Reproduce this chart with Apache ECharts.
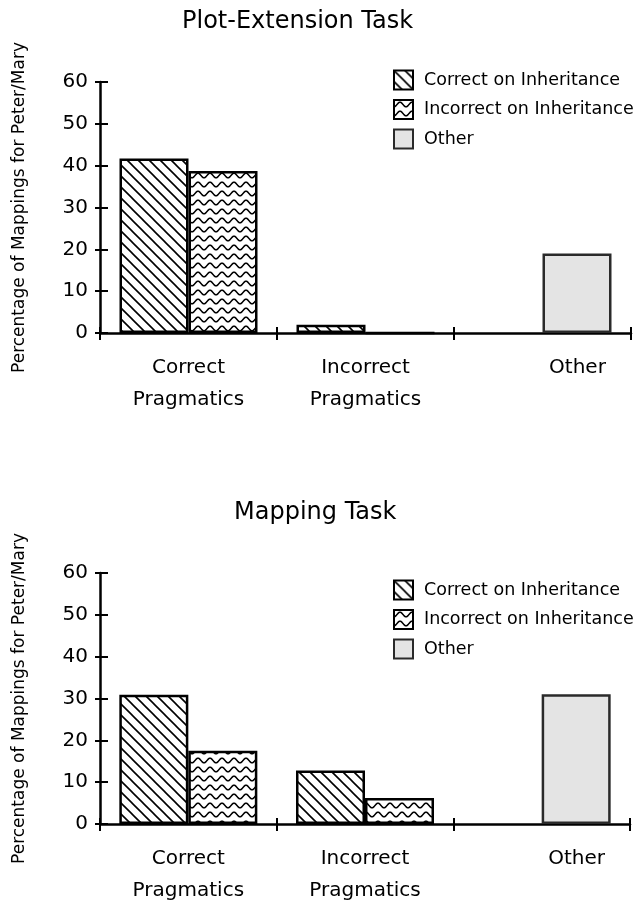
<!DOCTYPE html>
<html>
<head>
<meta charset="utf-8">
<script src="https://cdn.jsdelivr.net/npm/echarts@6/dist/echarts.min.js"></script>
<style>
  html, body { margin: 0; padding: 0; background: #fff; }
  #chart { width: 637px; height: 900px; }
</style>
</head>
<body>
<div id="chart"></div>
<script>
// ---- data ----
const categories = ['Correct\nPragmatics', 'Incorrect\nPragmatics', 'Other'];
const seriesNames = ['Correct on Inheritance', 'Incorrect on Inheritance', 'Other'];
const titles = ['Plot-Extension Task', 'Mapping Task'];
const yAxisName = 'Percentage of Mappings for Peter/Mary';
const yTicks = { min: 0, max: 60, interval: 10 };

const plotCorrectInh   = [41.7, 2, null];
const plotIncorrectInh = [38.7, 0, null];
const plotOther        = [null, null, 19];

const mapCorrectInh    = [30.9, 12.8, null];
const mapIncorrectInh  = [17.5, 6.2, null];
const mapOther         = [null, null, 31];

// ---- styles ----
const FONT = 'DejaVu Sans';

function hatchPattern() {
  const s = 11;
  const c = document.createElement('canvas');
  c.width = s; c.height = s;
  const g = c.getContext('2d');
  g.fillStyle = '#fff'; g.fillRect(0, 0, s, s);
  g.strokeStyle = '#000'; g.lineWidth = 1.6;
  g.beginPath();
  g.moveTo(-2, -2); g.lineTo(s + 2, s + 2);
  g.moveTo(-2, s - 2); g.lineTo(2, s + 2);
  g.moveTo(s - 2, -2); g.lineTo(s + 2, 2);
  g.stroke();
  return c;
}
function wavePattern() {
  const w = 12, h = 9;
  const c = document.createElement('canvas');
  c.width = w; c.height = h;
  const g = c.getContext('2d');
  g.fillStyle = '#fff'; g.fillRect(0, 0, w, h);
  g.strokeStyle = '#000'; g.lineWidth = 1.5;
  g.beginPath();
  for (let x = -1; x <= w + 1; x += 0.5) {
    const y = 4.5 + 2.3 * Math.cos(2 * Math.PI * x / w);
    if (x === -1) g.moveTo(x, y); else g.lineTo(x, y);
  }
  g.stroke();
  return c;
}
const hatch = { image: hatchPattern(), repeat: 'repeat' };
const wave = { image: wavePattern(), repeat: 'repeat' };

const styles = [
  { color: hatch, borderColor: '#000', borderWidth: 2.5 },
  { color: wave, borderColor: '#000', borderWidth: 2.5 },
  { color: '#e4e4e4', borderColor: '#2a2a2a', borderWidth: 2.5 }
];

const grids = [
  { left: 100, top: 82, width: 531, height: 251, outerBoundsMode: 'none' },
  { left: 100, top: 573, width: 530, height: 251, outerBoundsMode: 'none' }
];

const xAxes = [], yAxes = [], series = [], legends = [], titleOpts = [];
const dataSets = [
  [plotCorrectInh, plotIncorrectInh, plotOther],
  [mapCorrectInh, mapIncorrectInh, mapOther]
];
const titlePos = [{ left: 177, top: 5 }, { left: 229, top: 496 }];
const legendTop = [64.5, 574.5];

for (let gi = 0; gi < 2; gi++) {
  xAxes.push({
    type: 'category', gridIndex: gi, position: 'bottom', data: categories,
    axisLine: { lineStyle: { color: '#000', width: 2.5 } },
    axisTick: { show: true, length: 7, lineStyle: { color: '#000', width: 2 } },
    axisLabel: {
      margin: 19, color: '#000', fontSize: 20, fontFamily: FONT, lineHeight: 32,
      formatter: function (v) { return v === 'Other' ? '{o|' + v + '}' : v; },
      rich: { o: { padding: [0, 0, 0, 70], fontSize: 20, fontFamily: FONT, color: '#000', lineHeight: 32 } }
    },
    splitLine: { show: false }
  });
  xAxes.push({
    type: 'category', gridIndex: gi, position: 'bottom', data: categories,
    axisLine: { show: false },
    axisTick: { show: true, inside: true, length: 6, lineStyle: { color: '#000', width: 2 } },
    axisLabel: { show: false },
    splitLine: { show: false }
  });
  yAxes.push({
    type: 'value', gridIndex: gi, position: 'left',
    min: yTicks.min, max: yTicks.max, interval: yTicks.interval,
    name: yAxisName, nameLocation: 'middle', nameGap: 72, nameRotate: 90,
    nameTextStyle: { color: '#000', fontSize: 17, fontFamily: FONT },
    axisLine: { show: true, lineStyle: { color: '#000', width: 2.5 } },
    axisTick: { show: true, length: 5, lineStyle: { color: '#000', width: 2 } },
    axisLabel: { margin: 12, color: '#000', fontSize: 20, fontFamily: FONT },
    splitLine: { show: false }
  });
  yAxes.push({
    type: 'value', gridIndex: gi, position: 'left',
    min: yTicks.min, max: yTicks.max, interval: yTicks.interval,
    axisLine: { show: false },
    axisTick: { show: true, inside: true, length: 8, lineStyle: { color: '#000', width: 2 } },
    axisLabel: { show: false },
    splitLine: { show: false }
  });
  const ds = dataSets[gi];
  for (let si = 0; si < 3; si++) {
    series.push({
      name: seriesNames[si], type: 'bar',
      xAxisIndex: gi * 2, yAxisIndex: gi * 2,
      stack: si === 0 ? ('a' + gi) : ('b' + gi),
      data: ds[si], barWidth: 69, barGap: '0%',
      itemStyle: styles[si],
      emphasis: { disabled: true }
    });
  }
  legends.push({
    data: seriesNames, orient: 'vertical', left: 388, top: legendTop[gi],
    icon: 'rect', itemWidth: 19, itemHeight: 19, itemGap: 8.5,
    selectedMode: false,
    textStyle: { color: '#000', fontSize: 17.5, fontFamily: FONT, padding: [0, 0, 0, 6] }
  });
  titleOpts.push({
    text: titles[gi], left: titlePos[gi].left, top: titlePos[gi].top,
    textStyle: { color: '#000', fontSize: 24, fontWeight: 'normal', fontFamily: FONT }
  });
}

const chart = echarts.init(document.getElementById('chart'), null, { renderer: 'canvas' });
chart.setOption({
  animation: false,
  backgroundColor: '#fff',
  title: titleOpts,
  legend: legends,
  grid: grids,
  xAxis: xAxes,
  yAxis: yAxes,
  series: series
});
</script>
</body>
</html>
